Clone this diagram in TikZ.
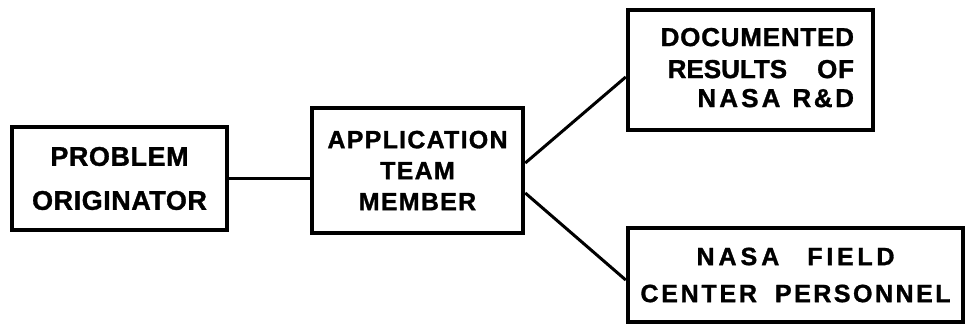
\documentclass[tikz,border=0pt]{standalone}
\usepackage{fontspec}
\setmainfont{Liberation Sans}[BoldFeatures={FakeBold=1.2}]
\newcommand{\lsp}[2]{{\addfontfeatures{LetterSpace=#1}#2}}
\begin{document}
\begin{tikzpicture}[x=1pt,y=-1pt,
  box/.style={draw=black,line width=4.5pt,rectangle,inner sep=0pt,font=\bfseries},
  link/.style={draw=black,line width=3pt}]
\useasboundingbox (0,0) rectangle (967,324);
\node[box,minimum width=215pt,minimum height=103pt,align=center,
  font=\bfseries\fontsize{27}{44}\selectfont\addfontfeatures{LetterSpace=2}] (b1) at (119.5,178.5)
  {PROBLEM\\ORIGINATOR};
\node[box,minimum width=211pt,minimum height=125pt,align=center,
  font=\bfseries\fontsize{25}{31}\selectfont\addfontfeatures{LetterSpace=5}] (b2) at (417.5,170.5)
  {APPLICATION\\TEAM\\MEMBER};
\node[box,minimum width=245pt,minimum height=120pt,align=right,text width=207pt,text depth=66pt,
  font=\bfseries\fontsize{26}{29}\selectfont] (b3) at (750.5,70)
  {\lsp{3}{DOCUMENTED}\\[3pt]\lsp{0}{RESULTS}\hspace{30pt}\lsp{3}{OF}\hspace{9pt}\\\lsp{12}{NASA}\hspace{12pt}\lsp{10}{R\&D}};
\node[box,minimum width=335pt,minimum height=94pt,align=center,
  font=\bfseries\fontsize{25}{37}\selectfont] (b4) at (795.5,275)
  {\lsp{16}{NASA}\hspace{28pt}\lsp{15}{FIELD}\\\lsp{11}{CENTER}\hspace{18pt}\lsp{10}{PERSONNEL}};
\draw[link] (b1.east) -- (b1.east -| b2.west);
\draw[link] ([yshift=7.5pt]b2.east) -- ([yshift=-7pt]b3.west);
\draw[link] ([yshift=-22.5pt]b2.east) -- ([yshift=-5pt]b4.west);
\end{tikzpicture}
\end{document}
